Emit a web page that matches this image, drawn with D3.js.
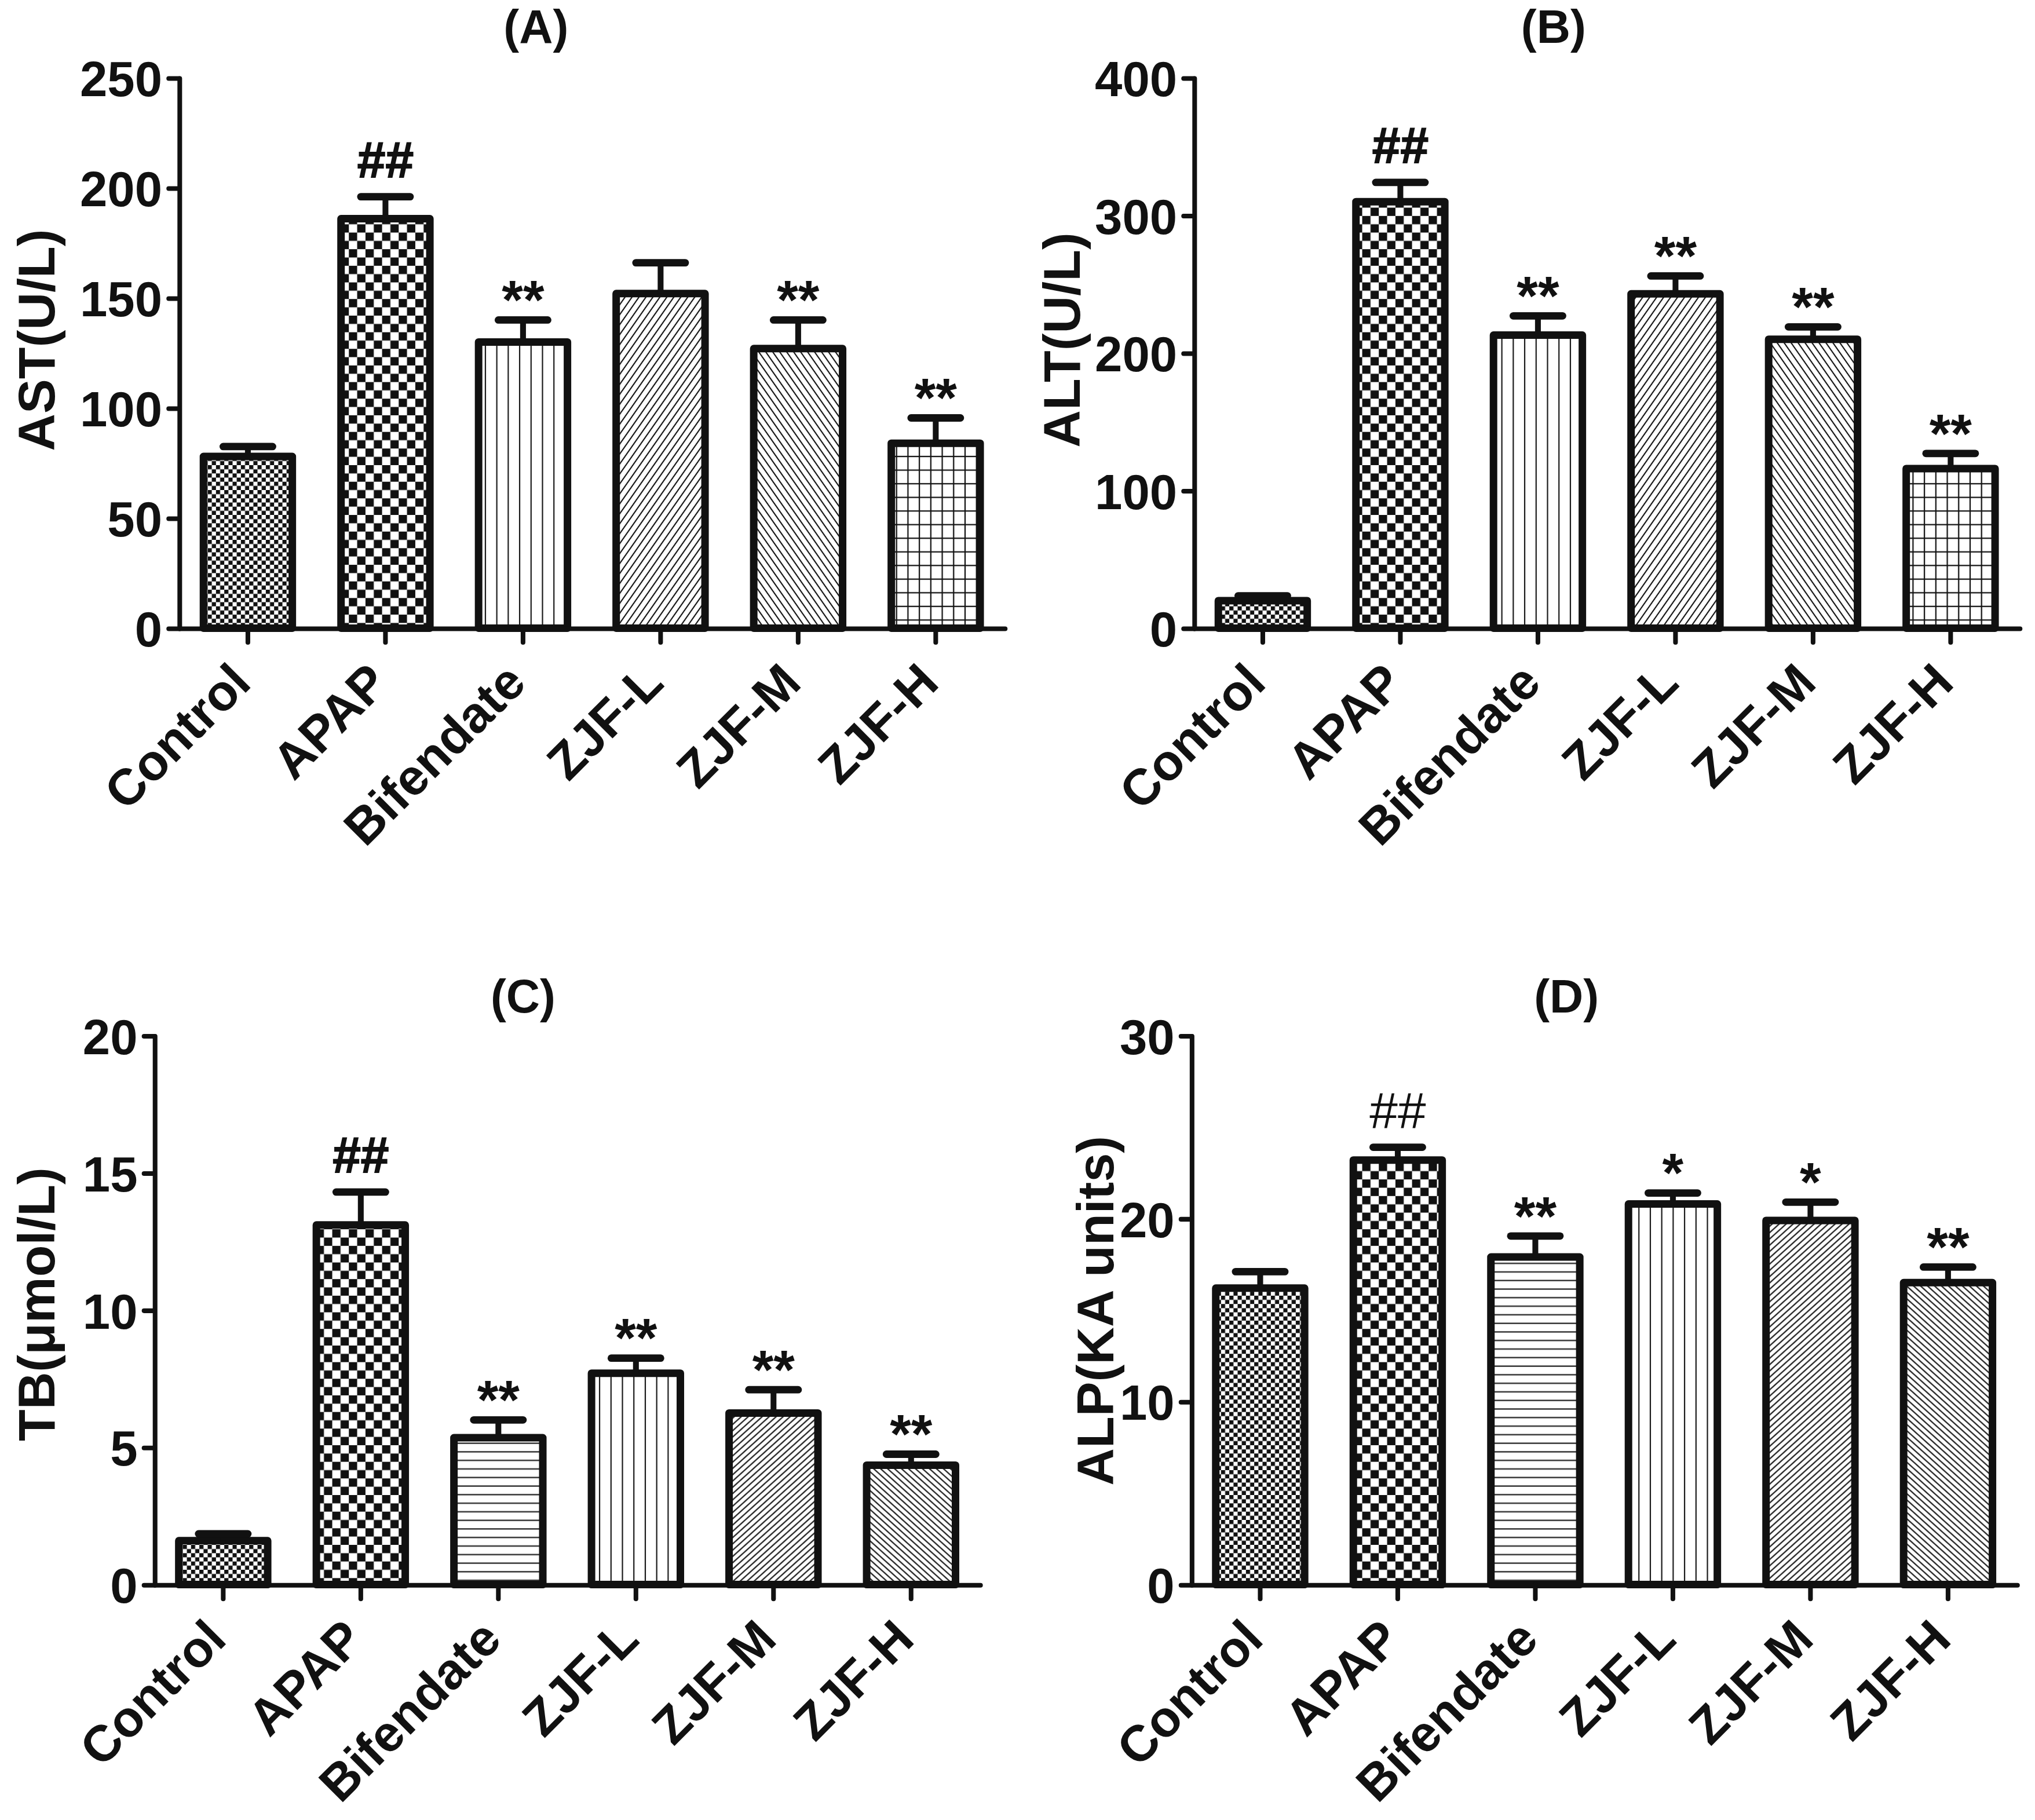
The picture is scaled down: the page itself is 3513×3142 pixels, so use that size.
<!DOCTYPE html>
<html>
<head>
<meta charset="utf-8">
<script src="https://cdn.jsdelivr.net/npm/d3@7/dist/d3.min.js"></script>
<style>
  html, body { margin: 0; padding: 0; background: #fff; }
  svg { display: block; }
  text { font-family: 'Liberation Sans', Arial, sans-serif; font-weight: bold; fill: #111; }
</style>
</head>
<body>
<svg id="chart"></svg>
<script>
// groups shared by all four panels
const groups = ['Control', 'APAP', 'Bifendate', 'ZJF-L', 'ZJF-M', 'ZJF-H'];

// (A) AST
const astMean = [78, 186, 130, 152, 127, 84];
const astSem = [4.5, 10, 10, 14, 13, 11.5];
const astMarks = ['', '##', '**', '', '**', '**'];
const astTicks = [0, 50, 100, 150, 200, 250];

// (B) ALT
const altMean = [20, 310, 213, 243, 210, 116];
const altSem = [3.5, 14, 14, 13, 9, 11];
const altMarks = ['', '##', '**', '**', '**', '**'];
const altTicks = [0, 100, 200, 300, 400];

// (C) TB
const tbMean = [1.6, 13.1, 5.35, 7.7, 6.25, 4.35];
const tbSem = [0.25, 1.2, 0.65, 0.55, 0.85, 0.4];
const tbMarks = ['', '##', '**', '**', '**', '**'];
const tbTicks = [0, 5, 10, 15, 20];

// (D) ALP
const alpMean = [16.2, 23.2, 17.9, 20.8, 19.9, 16.5];
const alpSem = [0.9, 0.7, 1.15, 0.6, 1.0, 0.85];
const alpMarks = ['', '##', '**', '*', '*', '**'];
const alpTicks = [0, 10, 20, 30];

const ink = '#111';
const W = 1568, H = 1402.4;

const svg = d3.select('#chart')
  .attr('width', 3513)
  .attr('height', 3142)
  .attr('viewBox', `0 0 ${W} ${H}`);

svg.append('rect').attr('width', W).attr('height', H).attr('fill', '#fff');

const defs = svg.append('defs');

function pattern(id, w, h, transform) {
  const p = defs.append('pattern')
    .attr('id', id)
    .attr('patternUnits', 'userSpaceOnUse')
    .attr('width', w)
    .attr('height', h);
  if (transform) p.attr('patternTransform', transform);
  p.append('rect').attr('width', w).attr('height', h).attr('fill', '#fff');
  return p;
}

function checker(id, s) {
  const p = pattern(id, 2 * s, 2 * s);
  p.append('rect').attr('width', s).attr('height', s).attr('fill', ink);
  p.append('rect').attr('x', s).attr('y', s).attr('width', s).attr('height', s).attr('fill', ink);
}

function hatch(id, gap, angle) {
  const p = pattern(id, gap, 10, angle ? `rotate(${angle})` : null);
  p.append('line').attr('x1', gap / 2).attr('x2', gap / 2).attr('y1', -1).attr('y2', 11)
    .attr('stroke', ink).attr('stroke-width', 0.95);
}

checker('fineCheck', 3.2);
checker('coarseCheck', 6.4);
hatch('vert', 8.8, 0);
hatch('horiz', 6.6, 90);
hatch('diagUp', 4.4, 35);
hatch('diagDown', 4.4, -35);
hatch('diagUpLow', 3.6, 48);
hatch('diagDownLow', 3.6, -48);
(function() {
  const p = pattern('grid', 8.8, 10.5);
  p.append('line').attr('x1', 4.4).attr('x2', 4.4).attr('y1', 0).attr('y2', 10.5)
    .attr('stroke', ink).attr('stroke-width', 1);
  p.append('line').attr('x1', 0).attr('x2', 8.8).attr('y1', 5.25).attr('y2', 5.25)
    .attr('stroke', ink).attr('stroke-width', 1);
})();

const topFills = ['fineCheck', 'coarseCheck', 'vert', 'diagUp', 'diagDown', 'grid'];
const bottomFills = ['fineCheck', 'coarseCheck', 'horiz', 'vert', 'diagUpLow', 'diagDownLow'];

const panels = [
  {title: '(A)', label: 'AST(U/L)', mean: astMean, sem: astSem, marks: astMarks, ticks: astTicks, fills: topFills,
    ax: 138, y0: 484, yTop: 60, tx: 413, ty: 33, lx: 42, ly: 262, hashWeight: 'bold'},
  {title: '(B)', label: 'ALT(U/L)', mean: altMean, sem: altSem, marks: altMarks, ticks: altTicks, fills: topFills,
    ax: 920, y0: 484, yTop: 60, tx: 1197, ty: 33, lx: 832, ly: 262, hashWeight: 'bold'},
  {title: '(C)', label: 'TB(μmol/L)', mean: tbMean, sem: tbSem, marks: tbMarks, ticks: tbTicks, fills: bottomFills,
    ax: 119, y0: 1221, yTop: 798, tx: 403, ty: 780, lx: 42, ly: 1005, hashWeight: 'bold'},
  {title: '(D)', label: 'ALP(KA units)', mean: alpMean, sem: alpSem, marks: alpMarks, ticks: alpTicks, fills: bottomFills,
    ax: 918, y0: 1221, yTop: 798, tx: 1207, ty: 780, lx: 858, ly: 1010, hashWeight: 'normal'}
];

function drawPanel(p) {
  const g = svg.append('g');

  const y = d3.scaleLinear()
    .domain([0, d3.max(p.ticks)])
    .range([p.y0, p.yTop]);

  const x = d3.scaleBand()
    .domain(groups)
    .range([p.ax, p.ax + 636])
    .paddingInner(0.354)
    .paddingOuter(0.177);

  const rows = groups.map((name, i) => ({
    name: name,
    mean: p.mean[i],
    top: p.mean[i] + p.sem[i],
    mark: p.marks[i],
    fill: p.fills[i]
  }));

  // bars
  g.selectAll('.bar')
    .data(rows)
    .enter()
    .append('rect')
    .attr('class', 'bar')
    .attr('x', d => x(d.name))
    .attr('width', x.bandwidth())
    .attr('y', d => y(d.mean))
    .attr('height', d => y(0) - y(d.mean))
    .attr('fill', d => 'url(#' + d.fill + ')')
    .attr('stroke', ink)
    .attr('stroke-width', 5.8)
    .attr('stroke-linejoin', 'round');

  // error bars (upper only)
  const cx = d => x(d.name) + x.bandwidth() / 2;
  g.selectAll('.err')
    .data(rows)
    .enter()
    .append('line')
    .attr('class', 'err')
    .attr('x1', cx).attr('x2', cx)
    .attr('y1', d => y(d.mean)).attr('y2', d => y(d.top))
    .attr('stroke', ink)
    .attr('stroke-width', 4.5);

  g.selectAll('.cap')
    .data(rows)
    .enter()
    .append('line')
    .attr('class', 'cap')
    .attr('x1', d => cx(d) - 19).attr('x2', d => cx(d) + 19)
    .attr('y1', d => y(d.top)).attr('y2', d => y(d.top))
    .attr('stroke', ink)
    .attr('stroke-width', 5.7)
    .attr('stroke-linecap', 'round');

  // significance marks
  g.selectAll('.mark')
    .data(rows.filter(d => d.mark))
    .enter()
    .append('text')
    .attr('class', 'mark')
    .attr('x', cx)
    .attr('y', d => d.mark[0] === '#' ? y(d.top) - 15 : y(d.top) - 1)
    .attr('text-anchor', 'middle')
    .style('font-size', d => d.mark[0] === '#' ? '39px' : '42px')
    .style('font-weight', d => d.mark[0] === '#' ? p.hashWeight : 'bold')
    .style('stroke', d => d.mark[0] === '#' && p.hashWeight === 'bold' ? ink : 'none')
    .style('stroke-width', 0.8)
    .text(d => d.mark);

  // axes
  const yAxis = g.append('g')
    .attr('transform', 'translate(' + p.ax + ',0)')
    .call(d3.axisLeft(y).tickValues(p.ticks).tickSize(8).tickSizeOuter(0).tickPadding(5));

  const xAxis = g.append('g')
    .attr('transform', 'translate(0,' + p.y0 + ')')
    .call(d3.axisBottom(x).tickSize(11).tickSizeOuter(0));

  [yAxis, xAxis].forEach(a => {
    a.select('.domain').attr('stroke', ink).attr('stroke-width', 3.6).attr('stroke-linecap', 'round');
    a.selectAll('.tick line').attr('stroke', ink).attr('stroke-width', 3.6).attr('stroke-linecap', 'round');
  });

  yAxis.selectAll('.tick text')
    .attr('dy', '0.36em')
    .style('font-size', '38px');

  xAxis.selectAll('.tick text')
    .attr('y', null)
    .attr('dy', null)
    .attr('text-anchor', 'end')
    .attr('transform', 'translate(4,44) rotate(-45)')
    .style('font-size', '39px');

  // title and y label
  g.append('text')
    .attr('x', p.tx)
    .attr('y', p.ty)
    .attr('text-anchor', 'middle')
    .style('font-size', '36px')
    .text(p.title);

  g.append('text')
    .attr('transform', 'translate(' + p.lx + ',' + p.ly + ') rotate(-90)')
    .attr('text-anchor', 'middle')
    .style('font-size', '40px')
    .text(p.label);
}

panels.forEach(drawPanel);
</script>
</body>
</html>
